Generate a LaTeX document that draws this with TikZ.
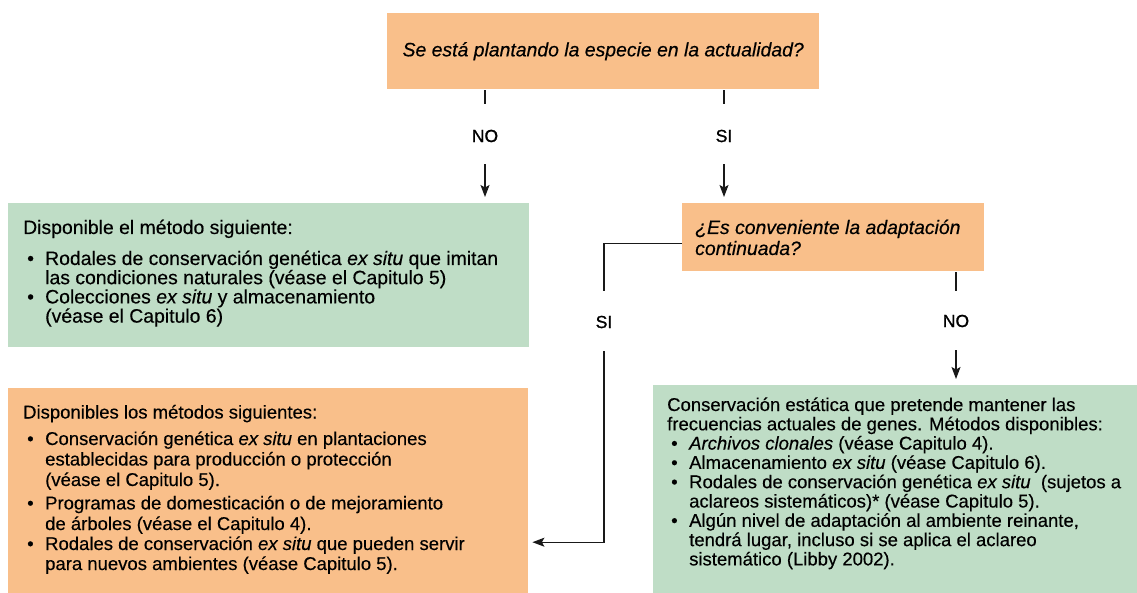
\documentclass[tikz,border=0pt]{standalone}
\usepackage{fontspec}
\setmainfont{Liberation Sans}[FakeBold=0.35]
\newfontfamily\lblfont{Liberation Sans}[FakeBold=1.1]
\usetikzlibrary{arrows.meta}
\definecolor{boxorange}{RGB}{249,191,138}
\definecolor{boxgreen}{RGB}{191,221,198}
\newcommand\fbig{\fontsize{19.4}{21}\selectfont}
\newcommand\fsmall{\fontsize{18.5}{20}\selectfont}
\newcommand\flbl{\lblfont\fontsize{17.5}{19}\selectfont}
\newcommand\bitem{\makebox[22pt][l]{\hspace{4pt}•}}
\newcommand\bcont{\hspace*{22pt}}
\tikzset{
  obox/.style={fill=boxorange, draw=none, inner sep=0pt, anchor=north west},
  gbox/.style={fill=boxgreen, draw=none, inner sep=0pt, anchor=north west},
  connline/.style={line width=1.2pt, draw=black!90},
  connarrow/.style={connline, -{Stealth[length=12pt,width=9pt,inset=2.5pt]}},
  yesno/.style={font=\flbl, inner sep=0pt},
  txtline/.style={anchor=base west, inner sep=0pt},
}
\begin{document}
\begin{tikzpicture}[x=1pt,y=-1pt]
\useasboundingbox (0,0) rectangle (1137,593);
% boxes
\node[obox, minimum width=432pt, minimum height=76pt] (q1) at (387,13) {};
\node[font=\fbig\itshape, inner sep=0pt] (q1t) at (q1.center) {Se está plantando la especie en la actualidad?};
\node[gbox, minimum width=521pt, minimum height=144pt] (m1) at (8,203) {};
\node[obox, minimum width=302pt, minimum height=68pt] (q2) at (682,203) {};
\node[obox, minimum width=520pt, minimum height=205pt] (m3) at (8,388) {};
\node[gbox, minimum width=484pt, minimum height=208pt] (m4) at (653,385) {};

% question 2 text
\node[txtline, font=\fbig\itshape] (q2a) at (695,234) {¿Es conveniente la adaptación};
\node[txtline, font=\fbig\itshape] (q2b) at (695,255) {continuada?};

% box 1 text
\node[txtline, font=\fbig] (m1a) at (23,234) {Disponible el método siguiente:};
\node[txtline, font=\fbig] (m1b) at (23,265) {\bitem Rodales de conservación genética \textit{ex situ} que imitan};
\node[txtline, font=\fbig] (m1c) at (23,284.2) {\bcont las condiciones naturales (véase el Capitulo 5)};
\node[txtline, font=\fbig] (m1d) at (23,303.4) {\bitem Colecciones \textit{ex situ} y almacenamiento};
\node[txtline, font=\fbig] (m1e) at (23,322.6) {\bcont (véase el Capitulo 6)};

% box 3 text
\node[txtline, font=\fsmall] (m3a) at (23,418.5) {Disponibles los métodos siguientes:};
\node[txtline, font=\fsmall] (m3b) at (23,445) {\bitem Conservación genética \textit{ex situ} en plantaciones};
\node[txtline, font=\fsmall] (m3c) at (23,465.5) {\bcont establecidas para producción o protección};
\node[txtline, font=\fsmall] (m3d) at (23,486) {\bcont (véase el Capitulo 5).};
\node[txtline, font=\fsmall] (m3e) at (23,509.4) {\bitem Programas de domesticación o de mejoramiento};
\node[txtline, font=\fsmall] (m3f) at (23,530) {\bcont de árboles (véase el Capitulo 4).};
\node[txtline, font=\fsmall] (m3g) at (23,550) {\bitem Rodales de conservación \textit{ex situ} que pueden servir};
\node[txtline, font=\fsmall] (m3h) at (23,570) {\bcont para nuevos ambientes (véase Capitulo 5).};

% box 4 text
\node[txtline, font=\fsmall] (m4a) at (667,411) {Conservación estática que pretende mantener las};
\node[txtline, font=\fsmall] (m4b) at (667,430.3) {frecuencias actuales de genes. Métodos disponibles:};
\node[txtline, font=\fsmall] (m4c) at (667,449.6) {\bitem\textit{Archivos clonales} (véase Capitulo 4).};
\node[txtline, font=\fsmall] (m4d) at (667,468.9) {\bitem Almacenamiento \textit{ex situ} (véase Capitulo 6).};
\node[txtline, font=\fsmall] (m4e) at (667,488.2) {\bitem Rodales de conservación genética \textit{ex situ}\ \ (sujetos a};
\node[txtline, font=\fsmall] (m4f) at (667,507.5) {\bcont aclareos sistemáticos)* (véase Capitulo 5).};
\node[txtline, font=\fsmall] (m4g) at (667,526.8) {\bitem Algún nivel de adaptación al ambiente reinante,};
\node[txtline, font=\fsmall] (m4h) at (667,546.1) {\bcont tendrá lugar, incluso si se aplica el aclareo};
\node[txtline, font=\fsmall] (m4i) at (667,565.4) {\bcont sistemático (Libby 2002).};

% labels
\node[yesno] (no1) at (485,136) {NO};
\node[yesno] (si1) at (724,136) {SI};
\node[yesno] (si2) at (604,322) {SI};
\node[yesno] (no2) at (956,321) {NO};

% connectors
\draw[connline, shorten <=1pt, shorten >=26pt] (q1.south -| no1) -- (no1);
\draw[connarrow, shorten <=22pt, shorten >=6pt] (no1) -- (no1 |- m1.north);
\draw[connline, shorten <=1pt, shorten >=26pt] (q1.south -| si1) -- (si1);
\draw[connarrow, shorten <=22pt, shorten >=6pt] (si1) -- (si1 |- q2.north);
\draw[connline, shorten >=25pt] ([yshift=-6pt]q2.west) -| (si2);
\draw[connarrow, shorten <=23pt, shorten >=4pt] (si2) |- ([yshift=-51.5pt]m3.east);
\draw[connline, shorten <=1pt, shorten >=24pt] (q2.south -| no2) -- (no2);
\draw[connarrow, shorten <=23pt, shorten >=6pt] (no2) -- (no2 |- m4.north);
\end{tikzpicture}
\end{document}
